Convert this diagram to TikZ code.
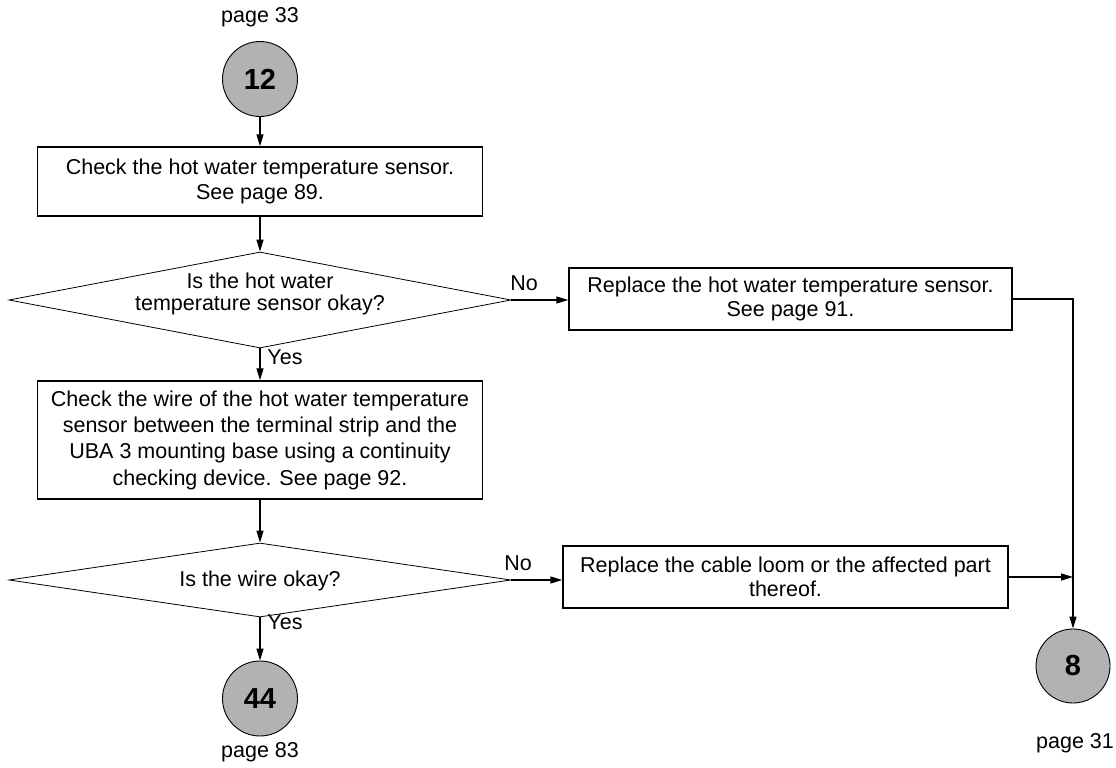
\documentclass[tikz,border=0pt]{standalone}
\usepackage{fontspec}
\setmainfont{Liberation Sans}
\usetikzlibrary{arrows.meta,shapes.geometric,calc}
\begin{document}
\begin{tikzpicture}[x=1pt,y=-1pt,
  conn/.style={line width=1.3pt,-{Triangle[length=12pt,width=7pt]}},
  box/.style={draw,line width=1.5pt,minimum height=#1,inner sep=0pt,align=center,font=\fontsize{21.5}{24.5}\selectfont},
  dia/.style={draw,line width=0.8pt,diamond,aspect=5.2,minimum width=502pt,minimum height=96pt,inner sep=0pt},
  txt/.style={inner sep=0pt,align=center,font=\fontsize{21.5}{22}\selectfont},
  conn0/.style={draw,circle,fill=black!30,line width=0.9pt,minimum size=75pt,inner sep=0pt,font=\bfseries\fontsize{29}{32}\selectfont},
  lbl/.style={font=\fontsize{21.5}{22}\selectfont,inner sep=0pt}]
\useasboundingbox (0,0) rectangle (1116,768);
\node[lbl] (p33) at (260,17) {page 33};
\node[conn0] (c12) at (260,79) {12};
\node[box=69pt,minimum width=445pt] (b1) at (260,181.5) {Check the hot water temperature sensor.\\See page 89.};
\node[dia] (d1) at (260,300) {};
\node[txt] (t1) at (260,294) {Is the hot water\\temperature sensor okay?};
\node[box=62pt,minimum width=443pt] (b2) at (790.5,299) {Replace the hot water temperature sensor.\\See page 91.};
\node[box=118pt,minimum width=445pt,font=\fontsize{21.5}{26.3}\selectfont] (b3) at (260,440) {Check the wire of the hot water temperature\\sensor between the terminal strip and the\\UBA 3 mounting base using a continuity\\checking device. See page 92.};
\node[dia,minimum height=74pt,aspect=6.8] (d2) at (260,580) {};
\node[txt] (t2) at (260,581) {Is the wire okay?};
\node[box=62pt,minimum width=445pt] (b4) at (785.5,577) {Replace the cable loom or the affected part\\thereof.};
\node[conn0] (c44) at (260,698.5) {44};
\node[lbl] (p83) at (260,752) {page 83};
\node[conn0,minimum size=74pt] (c8) at (1073,666) {8};
\node[lbl] (p31) at (1075,743) {page 31};
\node[lbl] (no1) at (524,283) {No};
\node[lbl] (no2) at (518,563) {No};
\node[lbl] (yes1) at (285,357) {Yes};
\node[lbl] (yes2) at (285,622) {Yes};
\coordinate (j) at (b4.east -| c8);
\draw[conn] (c12) -- (b1);
\draw[conn] (b1) -- (d1);
\draw[conn] (d1.east) -- (b2.west |- d1.east);
\draw[conn] (d1) -- (b3);
\draw[conn] (b3) -- (d2);
\draw[conn] (d2.east) -- (b4.west |- d2.east);
\draw[conn] (d2) -- (c44);
\draw[conn] (b2.east) -| (c8.north);
\draw[conn] (b4.east) -- (j);
\end{tikzpicture}
\end{document}
